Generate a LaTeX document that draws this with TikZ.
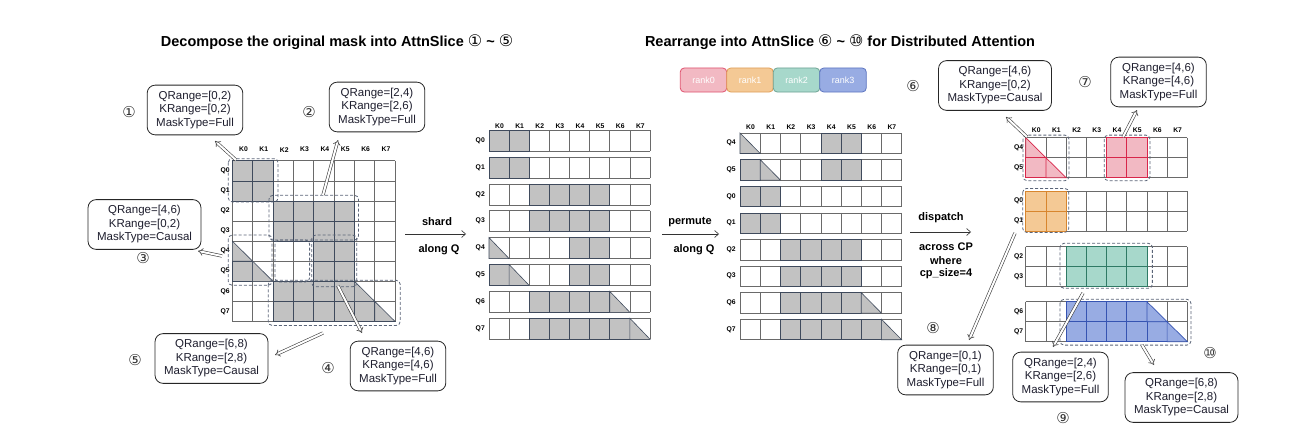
\documentclass[tikz,border=0pt]{standalone}
\usepackage{fontspec}
\setmainfont{Liberation Sans}
\newfontfamily\dv{DejaVu Sans}
\usetikzlibrary{arrows.meta}
\definecolor{gfill}{HTML}{C2C2C2}
\definecolor{gedge}{HTML}{3F4A5C}
\definecolor{glin}{HTML}{6A6A6A}
\definecolor{dcol}{HTML}{5B6578}
\definecolor{pinkF}{HTML}{F2B9C3}
\definecolor{pinkL}{HTML}{D8264A}
\definecolor{oraF}{HTML}{F4C995}
\definecolor{oraL}{HTML}{D8862E}
\definecolor{tealF}{HTML}{A7D8CB}
\definecolor{tealL}{HTML}{2F7A65}
\definecolor{bluF}{HTML}{98ACE3}
\definecolor{bluL}{HTML}{3654B2}
\definecolor{txt}{HTML}{1E1E2E}
\tikzset{
 lab/.style={draw=black!85, line width=0.8pt, rounded corners=8pt, align=center,
   font=\fontsize{11.5}{13.5}\selectfont, text=txt, inner xsep=9pt, inner ysep=6pt},
 cnum/.style={font=\dv\fontsize{15}{16}\selectfont, text=black!80, inner sep=0pt},
 klab/.style={font=\bfseries\fontsize{6.8}{8}\selectfont, inner sep=0pt},
 qlab/.style={font=\bfseries\fontsize{6.8}{8}\selectfont, inner sep=0pt, anchor=east},
 dbox/.style={draw=dcol, dash pattern=on 3pt off 2pt, line width=0.8pt, rounded corners=4pt},
 harrow/.style={draw=black!75, double=white, double distance=2pt, line width=0.6pt, -{Implies}},
 tarrow/.style={draw=black!80, line width=0.6pt, -{Straight Barb[length=4pt,width=7pt]}},
 ttl/.style={font=\bfseries\fontsize{14.5}{17}\selectfont, inner sep=0pt},
 op/.style={font=\bfseries\fontsize{11}{13}\selectfont, inner sep=0pt},
 gln/.style={draw=glin, line width=0.6pt},
 gcell/.style={fill=gfill, draw=gedge, line width=0.6pt},
 pcell/.style={fill=pinkF, draw=pinkL, line width=0.7pt},
 ocell/.style={fill=oraF, draw=oraL, line width=0.7pt},
 tcell/.style={fill=tealF, draw=tealL, line width=0.7pt},
 bcell/.style={fill=bluF, draw=bluL, line width=0.7pt},
 rank/.style={rounded corners=4pt, line width=0.8pt, minimum width=46.5pt, minimum height=24pt,
   text=white, font=\fontsize{9}{10}\selectfont},
}
\newcommand\cellsq[3]{\filldraw[#1] (#2,#3) rectangle ++(1,1);}
\newcommand\celltri[3]{\filldraw[#1] (#2,#3) -- ++(0,1) -- ++(1,0) -- cycle;}
\newcommand\gl[2]{\foreach \ii in {0,...,#1}{\draw[gln] (\ii,0)--(\ii,#2);}\foreach \jj in {0,...,#2}{\draw[gln] (0,\jj)--(#1,\jj);}}
\newcommand\gsqs[2]{\foreach \cc in {#2}{\cellsq{#1}{\cc}{0}}}
\newcommand\qrow[7]{\begin{scope}[shift={(#1,#2)}, x=#3pt, y=-#4pt]
  \gl{8}{1}
  #7
  \node[qlab] (#5) at (-0.2,0.5) {#6};
 \end{scope}}
\newcommand\cd[1]{{\dv\mdseries\fontsize{16}{17}\selectfont #1}}
\begin{document}
\begin{tikzpicture}[x=1pt,y=-1pt]
\useasboundingbox (0,0) rectangle (1311,436);
\fill[white] (0,0) rectangle (1311,436);

% titles
\node[ttl] (t1) at (337,42) {Decompose the original mask into AttnSlice \cd{①} \textasciitilde{} \cd{⑤}};
\node[ttl] (t2) at (840,42) {Rearrange into AttnSlice \cd{⑥} \textasciitilde{} \cd{⑩} for Distributed Attention};

% ---------- grid A ----------
\begin{scope}[shift={(232.3,160.7)}, x=20.35pt, y=-20.1pt]
 \gl{8}{8}
 \foreach \cc/\rr in {0/0,1/0,0/1,1/1,2/2,3/2,4/2,5/2,2/3,3/3,4/3,5/3,0/5,4/4,5/4,4/5,5/5,2/6,3/6,4/6,5/6,2/7,3/7,4/7,5/7,6/7}{\cellsq{gcell}{\cc}{\rr}}
 \foreach \cc/\rr in {0/4,1/5,6/6,7/7}{\celltri{gcell}{\cc}{\rr}}
 \foreach \i in {0,...,7}{\node[klab] (A-k\i) at (\i+0.55,-0.55) {K\i};\node[qlab] (A-q\i) at (-0.12,\i+0.5) {Q\i};}
 \draw[dbox] (-0.2,-0.1) rectangle (2.25,2.05);
 \draw[dbox] (1.8,1.72) rectangle (6.2,3.95);
 \draw[dbox] (-0.2,3.7) rectangle (1.95,6.2);
 \draw[dbox] (2.1,3.95) rectangle (3.8,6.03);
 \draw[dbox] (3.9,3.7) rectangle (6.12,6.27);
 \draw[dbox] (1.77,5.95) rectangle (8.25,8.2);
\end{scope}

% label boxes left
\node[lab] (b1) at (195,110) {QRange=[0,2)\\KRange=[0,2)\\MaskType=Full};
\node[lab] (b2) at (377,107) {QRange=[2,4)\\KRange=[2,6)\\MaskType=Full};
\node[lab] (b3) at (144.5,224.5) {QRange=[4,6)\\KRange=[0,2)\\MaskType=Causal};
\node[lab] (b5) at (211.5,358.5) {QRange=[6,8)\\KRange=[2,8)\\MaskType=Causal};
\node[lab] (b4) at (398,366) {QRange=[4,6)\\KRange=[4,6)\\MaskType=Full};
\node[cnum] (n1) at (129,112) {①};
\node[cnum] (n2) at (309,112) {②};
\node[cnum] (n3) at (143,258) {③};
\node[cnum] (n5) at (135,360) {⑤};
\node[cnum] (n4) at (328,368) {④};

\coordinate (a1s) at (236,160); \coordinate (a1e) at (215,141);
\coordinate (a2s) at (323,195); \coordinate (a2e) at (338,140);
\coordinate (a3s) at (222,256); \coordinate (a3e) at (198,251);
\coordinate (a4s) at (338,286); \coordinate (a4e) at (362,333);
\coordinate (a5s) at (323,333); \coordinate (a5e) at (275,355);
\foreach \k in {1,...,5}{\draw[harrow] (a\k s) -- (a\k e);}

% shard
\node[op] (shard) at (437,222) {shard};
\node[op] (alq1) at (439,250) {along Q};
\coordinate (s1) at (405,234); \coordinate (s2) at (466,234);
\draw[tarrow] (s1) -- (s2);

% ---------- grid B ----------
\foreach \i in {0,...,7}{\node[klab] (B-k\i) at (489+20.13*\i+10.5,126.5) {K\i};}
\qrow{489}{130}{20.13}{21}{B-q0}{Q0}{\gsqs{gcell}{0,1}}
\qrow{489}{156.9}{20.13}{21}{B-q1}{Q1}{\gsqs{gcell}{0,1}}
\qrow{489}{183.8}{20.13}{21}{B-q2}{Q2}{\gsqs{gcell}{2,3,4,5}}
\qrow{489}{210.7}{20.13}{21}{B-q3}{Q3}{\gsqs{gcell}{2,3,4,5}}
\qrow{489}{237.6}{20.13}{21}{B-q4}{Q4}{\celltri{gcell}{0}{0}\gsqs{gcell}{4,5}}
\qrow{489}{264.5}{20.13}{21}{B-q5}{Q5}{\gsqs{gcell}{0,4,5}\celltri{gcell}{1}{0}}
\qrow{489}{291.4}{20.13}{21}{B-q6}{Q6}{\gsqs{gcell}{2,3,4,5}\celltri{gcell}{6}{0}}
\qrow{489}{318.3}{20.13}{21}{B-q7}{Q7}{\gsqs{gcell}{2,3,4,5,6}\celltri{gcell}{7}{0}}

% permute
\node[op] (perm) at (690,222) {permute};
\node[op] (alq2) at (694,250) {along Q};
\coordinate (p1) at (662,234); \coordinate (p2) at (719,234);
\draw[tarrow] (p1) -- (p2);

% rank legend
\node[rank, fill=pinkF, draw=pinkL!80] (r0) at (703.5,80) {rank0};
\node[rank, fill=oraF, draw=oraL!80] (r1) at (750,80) {rank1};
\node[rank, fill=tealF, draw=tealL!70] (r2) at (796.5,80) {rank2};
\node[rank, fill=bluF, draw=bluL!80] (r3) at (843,80) {rank3};

% ---------- grid C ----------
\foreach \i in {0,...,7}{\node[klab] (C-k\i) at (740+20.2*\i+10.5,127.5) {K\i};}
\qrow{740}{133}{20.2}{20.5}{C-q4}{Q4}{\celltri{gcell}{0}{0}\gsqs{gcell}{4,5}}
\qrow{740}{159.6}{20.2}{20.5}{C-q5}{Q5}{\gsqs{gcell}{0,4,5}\celltri{gcell}{1}{0}}
\qrow{740}{186.2}{20.2}{20.5}{C-q0}{Q0}{\gsqs{gcell}{0,1}}
\qrow{740}{212.8}{20.2}{20.5}{C-q1}{Q1}{\gsqs{gcell}{0,1}}
\qrow{740}{239.4}{20.2}{20.5}{C-q2}{Q2}{\gsqs{gcell}{2,3,4,5}}
\qrow{740}{266}{20.2}{20.5}{C-q3}{Q3}{\gsqs{gcell}{2,3,4,5}}
\qrow{740}{292.6}{20.2}{20.5}{C-q6}{Q6}{\gsqs{gcell}{2,3,4,5}\celltri{gcell}{6}{0}}
\qrow{740}{319.2}{20.2}{20.5}{C-q7}{Q7}{\gsqs{gcell}{2,3,4,5,6}\celltri{gcell}{7}{0}}

% dispatch
\node[op] (disp) at (941,218) {dispatch};
\node[op] (acp) at (946,247) {across CP};
\node[op] (whr) at (946,261) {where};
\node[op] (cps) at (946,274) {cp\_size=4};
\coordinate (d1) at (910,232); \coordinate (d2) at (971,232);
\draw[tarrow] (d1) -- (d2);

% ---------- grid D ----------
\foreach \i in {0,...,7}{\node[klab] (D-k\i) at (1025.7+20.2*\i+10.5,130) {K\i};}
\begin{scope}[shift={(1025.7,137.7)}, x=20.2pt, y=-20pt]
 \gl{8}{2}
 \celltri{pcell}{0}{0}\cellsq{pcell}{0}{1}\celltri{pcell}{1}{1}
 \foreach \cc/\rr in {4/0,5/0,4/1,5/1}{\cellsq{pcell}{\cc}{\rr}}
 \node[qlab] (D-q4) at (-0.12,0.5) {Q4}; \node[qlab] (D-q5) at (-0.12,1.5) {Q5};
 \draw[dbox] (-0.13,-0.13) rectangle (2.14,2.15);
 \draw[dbox] (3.89,-0.13) rectangle (6.15,2.15);
\end{scope}
\begin{scope}[shift={(1025.7,191)}, x=20.2pt, y=-20pt]
 \gl{8}{2}
 \foreach \cc/\rr in {0/0,1/0,0/1,1/1}{\cellsq{ocell}{\cc}{\rr}}
 \node[qlab] (D-q0) at (-0.12,0.5) {Q0}; \node[qlab] (D-q1) at (-0.12,1.5) {Q1};
 \draw[dbox] (-0.15,-0.13) rectangle (2.13,2.07);
\end{scope}
\begin{scope}[shift={(1025.7,246.7)}, x=20.2pt, y=-20pt]
 \gl{8}{2}
 \foreach \cc/\rr in {2/0,3/0,4/0,5/0,2/1,3/1,4/1,5/1}{\cellsq{tcell}{\cc}{\rr}}
 \node[qlab] (D-q2) at (-0.12,0.5) {Q2}; \node[qlab] (D-q3) at (-0.12,1.5) {Q3};
 \draw[dbox] (1.7,-0.17) rectangle (6.27,2.08);
\end{scope}
\begin{scope}[shift={(1025.7,301.7)}, x=20.2pt, y=-20pt]
 \gl{8}{2}
 \foreach \cc/\rr in {2/0,3/0,4/0,5/0,2/1,3/1,4/1,5/1,6/1}{\cellsq{bcell}{\cc}{\rr}}
 \celltri{bcell}{6}{0}\celltri{bcell}{7}{1}
 \node[qlab] (D-q6) at (-0.12,0.5) {Q6}; \node[qlab] (D-q7) at (-0.12,1.5) {Q7};
 \draw[dbox] (1.7,-0.12) rectangle (8.18,2.17);
\end{scope}

% label boxes right
\node[lab] (b6) at (995,85.5) {QRange=[4,6)\\KRange=[0,2)\\MaskType=Causal};
\node[lab] (b7) at (1158.5,82) {QRange=[4,6)\\KRange=[4,6)\\MaskType=Full};
\node[lab] (b8) at (945.5,370) {QRange=[0,1)\\KRange=[0,1)\\MaskType=Full};
\node[lab] (b9) at (1060.5,377) {QRange=[2,4)\\KRange=[2,6)\\MaskType=Full};
\node[lab] (b10) at (1181.5,397.5) {QRange=[6,8)\\KRange=[2,8)\\MaskType=Causal};
\node[cnum] (n6) at (913,86) {⑥};
\node[cnum] (n7) at (1085,82) {⑦};
\node[cnum] (n8) at (933,328) {⑧};
\node[cnum] (n9) at (1063,418) {⑨};
\node[cnum] (n10) at (1210,353) {⑩};

\coordinate (a6s) at (1027,137); \coordinate (a6e) at (1006,117);
\coordinate (a7s) at (1123,137); \coordinate (a7e) at (1137,110);
\coordinate (a8s) at (1015,233); \coordinate (a8e) at (969,340);
\coordinate (a9s) at (1083,293); \coordinate (a9e) at (1053,347);
\coordinate (a10s) at (1142,345); \coordinate (a10e) at (1154,365);
\foreach \k in {6,...,10}{\draw[harrow] (a\k s) -- (a\k e);}
\end{tikzpicture}
\end{document}
